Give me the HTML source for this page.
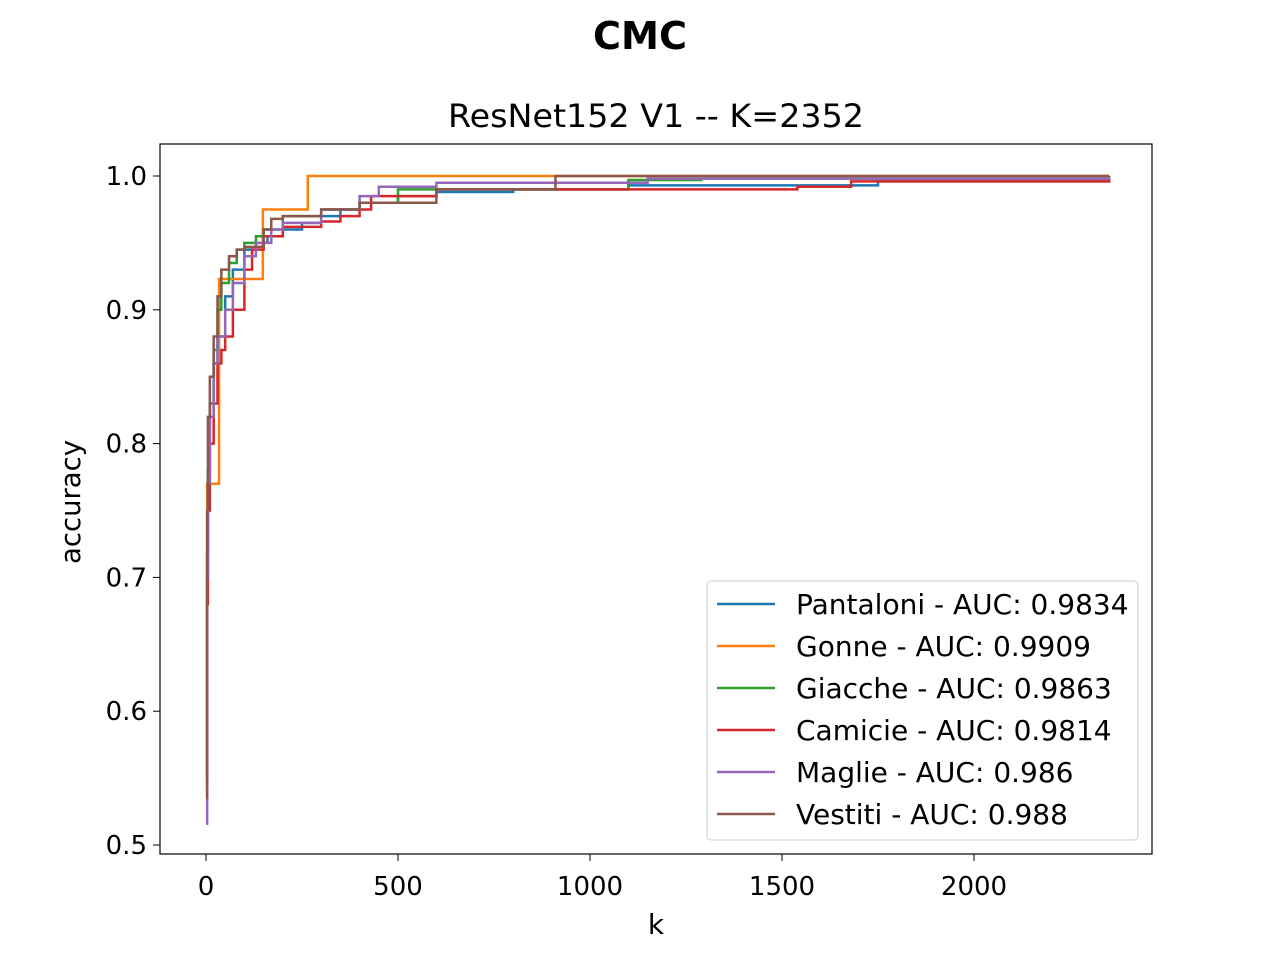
<!DOCTYPE html>
<html><head><meta charset="utf-8"><style>
body{margin:0;background:#fff;font-family:"Liberation Sans","DejaVu Sans",sans-serif;}
svg text{font-family:"DejaVu Sans","Liberation Sans",sans-serif;}
</style></head><body>
<svg id="chart" width="1280" height="960" xmlns="http://www.w3.org/2000/svg">
<rect width="1280" height="960" fill="#fff"/>
<text x="640" y="49" text-anchor="middle" font-size="38" font-weight="bold" textLength="94" lengthAdjust="spacingAndGlyphs">CMC</text>
<text x="656" y="127" text-anchor="middle" font-size="32" textLength="416" lengthAdjust="spacingAndGlyphs">ResNet152 V1 -- K=2352</text>
<g id="plot"></g>
<g id="axes"></g>
<text x="656" y="934" text-anchor="middle" font-size="28">k</text>
<text transform="translate(80,502) rotate(-90)" text-anchor="middle" font-size="28" textLength="124" lengthAdjust="spacingAndGlyphs">accuracy</text>
<g id="legend"></g>
</svg>
<script>
const seriesNames=["Pantaloni - AUC: 0.9834","Gonne - AUC: 0.9909","Giacche - AUC: 0.9863","Camicie - AUC: 0.9814","Maglie - AUC: 0.986","Vestiti - AUC: 0.988"];
const seriesColors=["#1f77b4","#ff7f0e","#2ca02c","#d62728","#9467bd","#8c564b"];
const kPantaloni=[1,3,5,10,20,30,50,70,100,130,160,200,250,300,350,400,500,600,800,1100,1750,2352];
const aPantaloni=[0.55,0.72,0.78,0.83,0.86,0.88,0.91,0.93,0.945,0.95,0.955,0.96,0.965,0.97,0.975,0.98,0.985,0.988,0.99,0.993,0.996,0.998];
const kGonne=[1,3,34,148,265,2352];
const aGonne=[0.68,0.77,0.923,0.975,1.0,1.0];
const kGiacche=[1,3,5,10,20,30,40,60,80,100,130,150,200,300,400,500,1100,1290,2352];
const aGiacche=[0.55,0.72,0.78,0.83,0.87,0.9,0.92,0.935,0.945,0.95,0.955,0.96,0.97,0.975,0.98,0.99,0.997,0.998,1.0];
const kCamicie=[1,3,5,10,20,30,40,50,70,100,120,150,200,300,350,400,430,600,1540,1680,2352];
const aCamicie=[0.54,0.68,0.75,0.80,0.83,0.86,0.87,0.88,0.9,0.93,0.945,0.955,0.962,0.966,0.97,0.975,0.985,0.99,0.992,0.996,0.998];
const kMaglie=[1,3,5,10,20,30,50,70,100,130,170,200,300,400,450,600,1150,2352];
const aMaglie=[0.516,0.70,0.77,0.82,0.86,0.88,0.9,0.92,0.94,0.95,0.96,0.965,0.975,0.985,0.992,0.995,0.998,0.999];
const kVestiti=[1,3,5,10,20,30,40,60,80,100,150,170,200,300,400,600,910,2352];
const aVestiti=[0.535,0.75,0.82,0.85,0.88,0.91,0.93,0.94,0.945,0.947,0.96,0.968,0.97,0.975,0.98,0.99,1.0,1.0];
const xTicks=[0,500,1000,1500,2000];
const yTicks=[0.5,0.6,0.7,0.8,0.9,1.0];
const yTickLabels=["0.5","0.6","0.7","0.8","0.9","1.0"];
const allK=[kPantaloni,kGonne,kGiacche,kCamicie,kMaglie,kVestiti];
const allA=[aPantaloni,aGonne,aGiacche,aCamicie,aMaglie,aVestiti];
const X=k=>206+k*0.384;
const Y=a=>176+(1-a)*1338;
const NS="http://www.w3.org/2000/svg";
const plot=document.getElementById('plot'),axes=document.getElementById('axes'),leg=document.getElementById('legend');
function mk(t,attrs,parent){const e=document.createElementNS(NS,t);for(const k in attrs)e.setAttribute(k,attrs[k]);parent.appendChild(e);return e;}
for(let s=0;s<6;s++){
 const ks=allK[s],as=allA[s];let d=`M${X(0)},${Y(as[0])}`;
 for(let i=0;i<ks.length;i++){d+=`H${X(ks[i])}V${Y(as[i])}`;}
 d+=`H${X(2352)}`;
 const p=mk('path',{d:d,fill:'none',stroke:seriesColors[s],'stroke-width':2.5},plot);
 
 
}
const frame=mk('rect',{x:160,y:144,width:992,height:710,fill:'none',stroke:'#000','stroke-width':1.2},axes);


xTicks.forEach(t=>{mk('line',{x1:X(t),x2:X(t),y1:854,y2:861,stroke:'#000'},axes);
 const tx=mk('text',{x:X(t),y:895,'text-anchor':'middle','font-size':26},axes);tx.textContent=t;
 
 });
yTicks.forEach((t,i)=>{mk('line',{x1:153,x2:160,y1:Y(t),y2:Y(t),stroke:'#000'},axes);
 const tx=mk('text',{x:147,y:Y(t)+9,'text-anchor':'end','font-size':26},axes);tx.textContent=yTickLabels[i];
 
 });
const lb=mk('rect',{x:707,y:581,width:431,height:259,rx:4,fill:'#fff','fill-opacity':0.8,stroke:'#ccc'},leg);


seriesNames.forEach((n,i)=>{const y=604+i*42;
 mk('line',{x1:717,x2:775,y1:y,y2:y,stroke:seriesColors[i],'stroke-width':2.5},leg);
 const tx=mk('text',{x:796,y:y+10,'font-size':28},leg);tx.textContent=n;
 
 });
</script>
</body></html>
